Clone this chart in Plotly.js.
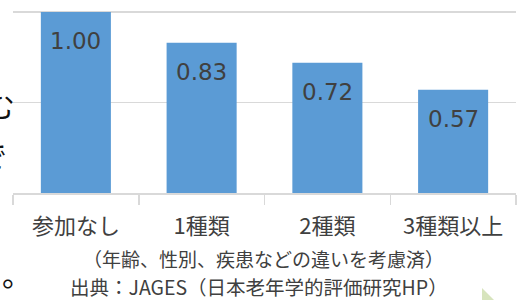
<!DOCTYPE html>
<html>
<head>
<meta charset="utf-8">
<script src="https://cdn.plot.ly/plotly-3.0.1.min.js"></script>
<style>html,body{margin:0;padding:0;background:#fff;}#chart{width:523px;height:300px;}</style>
</head>
<body>
<div id="chart"></div>
<script>
var categories = ["参加なし", "1種類", "2種類", "3種類以上"];
var values = [1.00, 0.83, 0.72, 0.57];
var valueLabels = ["1.00", "0.83", "0.72", "0.57"];
var noteText = "（年齢、性別、疾患などの違いを考慮済）";
var sourceText = "出典：JAGES（日本老年学的評価研究HP）";

var CJK = "Noto Sans CJK JP, sans-serif";
var textColor = "#404040";

var trace = {
  type: "bar",
  x: categories,
  y: values,
  marker: {color: "#5B9BD5"},
  hoverinfo: "none"
};

var annotations = categories.map(function (c, i) {
  return {
    x: c, y: values[i], xref: "x", yref: "y",
    text: valueLabels[i], showarrow: false,
    yanchor: "top", yshift: -14,
    font: {family: "DejaVu Sans, sans-serif", size: 23, color: textColor}
  };
});
annotations.push({
  xref: "paper", yref: "paper", x: 0.499, y: -0.337,
  xanchor: "center", yanchor: "middle", showarrow: false,
  text: noteText, font: {family: CJK, size: 19, color: textColor}
});
annotations.push({
  xref: "paper", yref: "paper", x: 0.489, y: -0.484,
  xanchor: "center", yanchor: "middle", showarrow: false, borderpad: 0,
  text: sourceText, font: {family: CJK, size: 19.5, color: textColor}
});
// cut-off fragments of neighbouring text at left edge
annotations.push({xref: "paper", yref: "paper", x: -0.026, y: 0.46, xanchor: "center", yanchor: "middle", showarrow: false, text: "む", font: {family: CJK, size: 30, color: "#111"}});
annotations.push({xref: "paper", yref: "paper", x: -0.042, y: 0.2, xanchor: "center", yanchor: "middle", showarrow: false, text: "で", font: {family: CJK, size: 30, color: "#111"}});
annotations.push({xref: "paper", yref: "paper", x: 0.008, y: -0.415, xanchor: "center", yanchor: "middle", showarrow: false, text: "。", font: {family: CJK, size: 30, color: "#111"}});

var layout = {
  width: 523, height: 300,
  margin: {l: 13, r: 7, t: 0, b: 107},
  paper_bgcolor: "#fff", plot_bgcolor: "#fff",
  showlegend: false,
  bargap: 0.443,
  xaxis: {
    type: "category",
    range: [-0.5, 3.5],
    showline: true, linecolor: "#D9D9D9", linewidth: 1.5,
    ticks: "outside", tickson: "boundaries", ticklen: 10, tickcolor: "#D9D9D9", tickwidth: 1.5,
    ticklabelstandoff: 13,
    tickfont: {family: CJK, size: 22, color: textColor},
    showgrid: false, fixedrange: true
  },
  yaxis: {
    range: [0, 1.0663],
    dtick: 0.5, tick0: 0,
    showticklabels: false,
    showgrid: true, gridcolor: "#D9D9D9", gridwidth: 1.5,
    zeroline: false, showline: false, ticks: "", fixedrange: true
  },
  shapes: [{
    type: "path", xref: "paper", yref: "paper",
    path: "M 0.9324 -0.492 L 0.9324 -0.554 L 0.9563 -0.554 Z",
    fillcolor: "#D7E4BD", line: {width: 0}
  }],
  annotations: annotations
};

Plotly.newPlot("chart", [trace], layout, {displayModeBar: false, staticPlot: true});
</script>
</body>
</html>
